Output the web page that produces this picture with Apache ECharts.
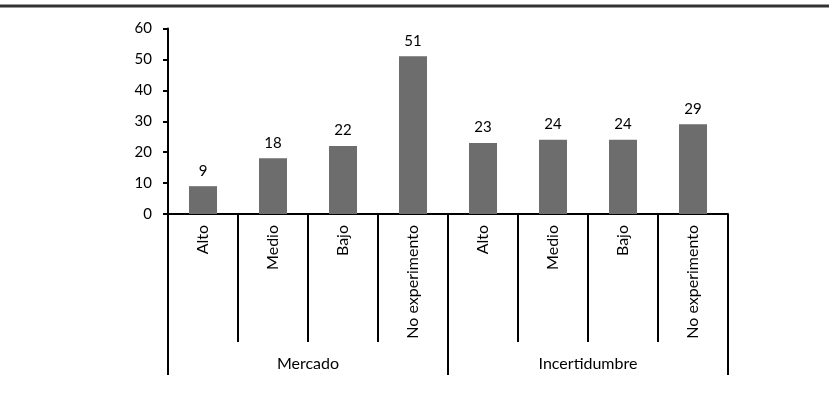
<!DOCTYPE html>
<html><head><meta charset="utf-8">
<script src="https://cdn.jsdelivr.net/npm/echarts@6/dist/echarts.min.js"></script>
<style>html,body{margin:0;padding:0;background:#fff}#c{width:829px;height:395px}</style>
</head><body><div id="c"></div>
<script>
const categories = ['Alto','Medio','Bajo','No experimento','Alto','Medio','Bajo','No experimento'];
const groups = ['Mercado','Incertidumbre'];
const values = [9,18,22,51,23,24,24,29];
const yTicks = {min:0, max:60, interval:10};

const FONT = 'Lato';
const chart = echarts.init(document.getElementById('c'), null, {renderer:'canvas'});
chart.setOption({
  animation:false,
  backgroundColor:'#fff',
  graphic:[{type:'line', shape:{x1:0,y1:6,x2:829,y2:6}, style:{stroke:'#333', lineWidth:3}}],
  grid:{left:168, top:28.5, width:560, height:185.5, containLabel:false},
  xAxis:[{
    type:'category', data:categories, position:'bottom',
    axisLine:{lineStyle:{color:'#000', width:2}},
    axisTick:{show:true, interval:0, length:128, lineStyle:{color:'#000', width:2}},
    axisLabel:{interval:0, rotate:90, margin:11, fontFamily:FONT, fontSize:16, color:'#000'}
  },{
    type:'category', data:groups, position:'bottom',
    axisLine:{show:false},
    axisTick:{show:true, interval:0, length:161, lineStyle:{color:'#000', width:2}},
    axisLabel:{interval:0, margin:142, fontFamily:FONT, fontSize:16, color:'#000'}
  }],
  yAxis:{
    type:'value', min:yTicks.min, max:yTicks.max, interval:yTicks.interval,
    splitLine:{show:false},
    axisLine:{show:true, lineStyle:{color:'#000', width:2}},
    axisTick:{show:true, length:5, lineStyle:{color:'#000', width:2}},
    axisLabel:{margin:16, fontFamily:FONT, fontSize:15, color:'#000'}
  },
  series:[{
    type:'bar', data:values, xAxisIndex:0, barWidth:28,
    itemStyle:{color:'#6d6d6d'},
    label:{show:true, position:'top', distance:8, fontFamily:FONT, fontSize:15, color:'#000'}
  }]
});
</script></body></html>
